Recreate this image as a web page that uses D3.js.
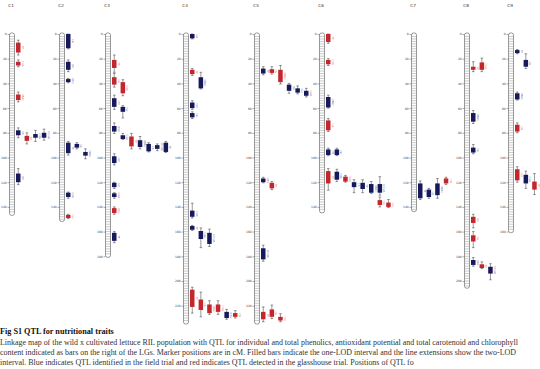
<!DOCTYPE html>
<html><head><meta charset="utf-8">
<script src="https://cdn.jsdelivr.net/npm/d3@7"></script>
<style>body{margin:0;background:#fff}svg{display:block}</style>
</head><body>
<svg id="c" width="540" height="369"></svg>
<script>
// ---------- data ----------
const chromosomes = ["C1","C2","C3","C4","C5","C6","C7","C8","C9"];
const chromLengths = [146, 151, 180, 234, 234, 144, 143, 205, 160];
const tickValues = [0,20,40,60,80,100,120,140,160,180,200,220];
// rows: [column, oneLOD start, oneLOD end, twoLOD start, twoLOD end, trial, label]  (F = field, G = glasshouse)
const qtlC1 = [[1,7,15,5,17,"G","TP"],[1,22.5,25.5,21,26.5,"G","CGA"],[1,49,53.5,47,55,"G","ORAC"],[1,78,82,76,84,"F","CA"],
  [2,82.5,86.5,80,89,"G","TP"],[3,81,84,78,87,"F","CQA"],[4,80,84,77,86,"F","DCQA"],[1,113,120,109,122,"F","Chl"]];
const qtlC2 = [[1,0,11.5,0,12,"F","Car"],[1,22.5,29,21,30.5,"F","Chl"],[1,36.5,39,36,39.5,"F","Q3G"],[1,88,96.5,87,98,"F","TP"],
  [2,89,92,88,93,"F","CA"],[3,95.5,98.5,93,101,"F","ORAC"],[1,128.5,132,128,133,"F","CGA"],[1,146.5,149,146,149.5,"G","Car"]];
const qtlC3 = [[1,21,27.5,17,31,"G","TP"],[1,35,41,32,43,"G","CA"],[2,39,48,37,50,"G","CQA"],[1,52,59,49.5,61,"F","Chl"],
  [2,59,63,58,68,"F","Car"],[1,74.5,79,72,80.5,"F","Q3G"],[2,82,85,80.5,85.5,"F","CGA"],[3,83,91,80.5,93,"G","TP"],
  [4,86,91.5,83,93,"F","ORAC"],[5,89,95,88,95.5,"F","CA"],[6,90,93,89,94.5,"F","DCQA"],[7,88,95.5,87,96,"F","TP"],
  [1,99,104.5,97,106,"F","Chl"],[1,120.5,124,120,125,"F","Car"],[1,129,132,128.5,133,"F","CGA"],[1,141,145,140,146,"G","Q3G"],
  [1,161,167.5,160,169,"F","TP"]];
const qtlC4 = [[1,0,3.5,0,4,"F","CA"],[1,29,32.5,28,33.5,"G","TP"],[2,35,44,31,44.5,"F","ORAC"],[1,55.5,60,54,61,"F","Chl"],
  [1,64,67.5,63,68.5,"F","Car"],[1,143,148,137,149,"F","CGA"],[1,155.5,158.5,155,159,"F","TP"],[2,159.5,166,157,173,"F","CQA"],
  [3,161,170,158,172,"F","DCQA"],[1,207,221,205,226,"G","TP"],[2,215,223.5,209,229,"G","CA"],[3,219,226,216,227,"G","ORAC"],
  [4,219,225,216,227,"G","CGA"],[5,225,230,223,231,"F","Q3G"],[6,226,229,224,230,"G","Chl"]];
const qtlC5 = [[1,28,32,26.5,33,"F","TP"],[2,28.5,31.5,26.5,32.5,"G","CA"],[3,29,39,25.5,40.5,"G","ORAC"],[4,41,46,40,48,"F","Chl"],
  [5,44,47.5,42,48.5,"F","Car"],[6,46,50,44,51,"F","CGA"],[1,117,120,116,120.5,"F","Q3G"],[2,120.5,125,119.5,126,"G","TP"],
  [1,173.5,182.5,171,184,"F","DCQA"],[1,225,231,221,233,"G","TP"],[2,223,229,219.5,230.5,"G","CA"],[3,229,232,226.5,233,"G","Chl"]];
const qtlC6 = [[1,0,6.5,0,7.5,"G","TP"],[1,21,24.5,20,25.5,"G","CGA"],[1,51,59.5,49.5,60,"F","ORAC"],[1,70,78,68.5,79,"G","CA"],
  [1,93.5,98,92.5,98.5,"F","Chl"],[2,93.5,98,92.5,98.5,"F","Car"],[1,111,121,109,126.5,"G","TP"],[2,111.5,118,109.5,119.5,"F","CQA"],
  [3,115.5,119.5,114.5,120,"G","Q3G"],[4,120,124,118,128.5,"F","CA"],[5,120.5,125.5,118,128.5,"F","TP"],[6,121.5,128.5,119.5,129,"F","ORAC"],
  [7,121.5,128.5,115.5,130.5,"F","DCQA"],[7,134.5,138.5,132,140,"G","Chl"],[8,136.5,140,134,140.5,"G","Car"]];
const qtlC7 = [[1,121,133,119,134,"F","TP"],[2,126,132,125,133,"F","CA"],[3,121,130.5,117,133,"F","ORAC"],[4,117,121,116,122,"G","Chl"]];
const qtlC8 = [[1,26.5,29,22.5,30.5,"G","TP"],[2,23,29,19.5,30.5,"G","CGA"],[1,64,71,62,72.5,"F","ORAC"],[1,92,96,89.5,97,"F","CA"],
  [1,148,153,146,157,"G","Chl"],[1,163,168,160,173,"G","Car"],[1,183,187,181,188,"F","Q3G"],[2,186.5,189.5,184.5,190,"G","TP"],
  [3,188.5,194,186,199,"F","DCQA"]];
const qtlC9 = [[1,13,15.5,12.5,16,"F","TP"],[2,21,26.5,16,28,"F","CA"],[1,48,53,47,53.5,"F","ORAC"],[1,73.5,79,72,80,"G","Chl"],
  [1,109.5,118.5,107.5,120,"G","Car"],[2,114,121,111,125,"F","CGA"],[3,119.5,126,113,130,"G","TP"]];
const qtlByChrom = [qtlC1,qtlC2,qtlC3,qtlC4,qtlC5,qtlC6,qtlC7,qtlC8,qtlC9];
const captionTitle = "Fig S1 QTL for nutritional traits";
const captionLines = [
 "Linkage map of the wild x cultivated lettuce RIL population with QTL for individual and total phenolics, antioxidant potential and total carotenoid and chlorophyll",
 "content indicated as bars on the right of the LGs. Marker positions are in cM. Filled bars indicate the one-LOD interval and the line extensions show the two-LOD",
 "interval. Blue indicates QTL identified in the field trial and red indicates QTL detected in the glasshouse trial. Positions of QTL fo"];

// ---------- layout ----------
const chromXPos = [12, 62, 108, 186, 257, 322, 414, 467, 511];
const x = d3.scaleOrdinal().domain(chromosomes).range(chromXPos);
const y = d3.scaleLinear().domain([0, 240]).range([34, 34 + 240 * 1.235]);
const col = d3.scaleLinear().domain([1, 8]).range([4, 4 + 7 * 8.6]);
const color = d3.scaleOrdinal().domain(["F","G"]).range(["#161a5c","#c3262d"]);
const barW = 4.5, rulerW = 5;

const svg = d3.select("#c");
const g = svg.append("g");

chromosomes.forEach((c, i) => {
  const cx = x(c);
  const len = chromLengths[i];
  const cg = g.append("g");
  cg.append("text").attr("x", cx - 1).attr("y", 7).attr("text-anchor","middle")
    .attr("font-family","DejaVu Sans").attr("font-size",4.2).attr("fill","#333").text(c);
  // ruler
  cg.append("rect").attr("x", cx - rulerW/2).attr("y", y(0) - 1).attr("width", rulerW)
    .attr("height", y(len) - y(0) + 2).attr("rx", 2).attr("fill","#fff").attr("stroke","#555").attr("stroke-width",0.6);
  const rungs = d3.range(2, len, 2);
  cg.selectAll("line.r").data(rungs).join("line")
    .attr("x1", cx - rulerW/2).attr("x2", cx + rulerW/2)
    .attr("y1", d => y(d)).attr("y2", d => y(d)).attr("stroke","#888").attr("stroke-width",0.45);
  // axis
  const ax = d3.axisLeft(y).tickValues(tickValues.filter(t => t <= len)).tickSize(2).tickPadding(0.8);
  const axg = cg.append("g").attr("transform", `translate(${cx - rulerW/2},0)`).call(ax);
  axg.select(".domain").remove();
  axg.selectAll("line").attr("stroke","#555").attr("stroke-width",0.5);
  axg.selectAll("text").attr("font-size",3).attr("font-family","DejaVu Sans").attr("fill","#444");
  // QTL
  const qtl = qtlByChrom[i];
  const qg = cg.selectAll("g.q").data(qtl).join("g");
  qg.each(function(d) {
    const s = d3.select(this);
    const bx = cx + col(d[0]);
    const mid = bx + barW/2;
    s.append("line").attr("x1", mid).attr("x2", mid).attr("y1", y(d[3])).attr("y2", y(d[4]))
      .attr("stroke","#333").attr("stroke-width",0.5);
    [d[3], d[4]].forEach(v => s.append("line").attr("x1", mid - 1.3).attr("x2", mid + 1.3)
      .attr("y1", y(v)).attr("y2", y(v)).attr("stroke","#333").attr("stroke-width",0.5));
    s.append("rect").attr("x", bx).attr("y", y(d[1])).attr("width", barW)
      .attr("height", Math.max(1, y(d[2]) - y(d[1]))).attr("fill", color(d[5]));
    const ly = (y(d[1]) + y(d[2])) / 2;
    s.append("text").attr("transform", `translate(${bx + barW + 1.2},${ly}) rotate(90)`)
      .attr("text-anchor","middle").attr("font-family","DejaVu Sans").attr("font-size",2.6)
      .attr("fill", color(d[5])).attr("opacity",0.8).text(d[6]);
  });
});

// caption
const cap = svg.append("g").attr("font-family","Liberation Serif");
cap.append("text").attr("x", 0).attr("y", 334).attr("font-size", 8.2).attr("font-weight","bold")
  .attr("fill","#111").text(captionTitle);
cap.selectAll("text.l").data(captionLines).join("text").attr("class","l")
  .attr("x", 0).attr("y", (d, i) => 344.5 + i * 10).attr("font-size", 7.95).attr("fill","#333").text(d => d);
</script>
</body></html>
